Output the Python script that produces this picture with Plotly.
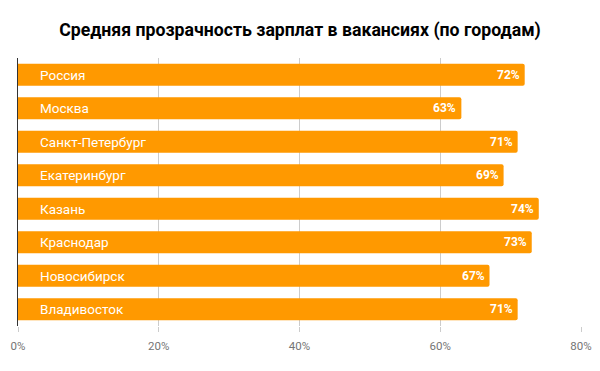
import plotly.graph_objects as go

cities = ["Россия", "Москва", "Санкт-Петербург", "Екатеринбург", "Казань",
          "Краснодар", "Новосибирск", "Владивосток"]
values = [72, 63, 71, 69, 74, 73, 67, 71]
tick_vals = [0, 20, 40, 60, 80]
tick_text = ["0%", "20%", "40%", "60%", "80%"]
title = "Средняя прозрачность зарплат в вакансиях (по городам)"

# page body has an 8px margin; compensate so the picture matches a 600x371 frame
W, H, OFF = 600, 371, 8

fig = go.Figure(go.Bar(
    x=values, y=cities, orientation="h",
    marker=dict(color="#ff9900", line=dict(width=0)),
    marker_cornerradius=2,
    hoverinfo="skip",
))

for c, v in zip(cities, values):
    fig.add_annotation(x=0, y=c, text=c, xanchor="left", xshift=20,
                       showarrow=False,
                       font=dict(family="Roboto", size=13.5, color="white"))
    fig.add_annotation(x=v, y=c, text=f"{v}%", xanchor="right", xshift=-3,
                       showarrow=False,
                       font=dict(family="Roboto", size=12, color="white",
                                 weight="bold"))

fig.update_layout(
    width=W - OFF, height=H - OFF,
    margin=dict(l=18 - OFF, r=19, t=58 - OFF, b=45, autoexpand=False),
    paper_bgcolor="white", plot_bgcolor="white",
    bargap=0.35,
    showlegend=False,
    title=dict(text=title, x=(300 - OFF) / (W - OFF), xanchor="center",
               y=1 - (30 - OFF) / (H - OFF), yanchor="middle",
               font=dict(family="Roboto", size=17.7, color="black", weight="bold")),
    xaxis=dict(range=[0, 80], tickvals=tick_vals, ticktext=tick_text,
               showgrid=True, gridcolor="#cccccc", gridwidth=1,
               zeroline=False, ticks="outside", ticklen=5, tickcolor="#cccccc",
               ticklabelstandoff=4,
               tickfont=dict(family="Roboto", size=11.5, color="#757575"),
               fixedrange=True),
    yaxis=dict(autorange="reversed", showticklabels=False, showgrid=False,
               showline=True, linecolor="#333333", linewidth=1, ticks="",
               fixedrange=True),
)

fig.write_html("out.html")
